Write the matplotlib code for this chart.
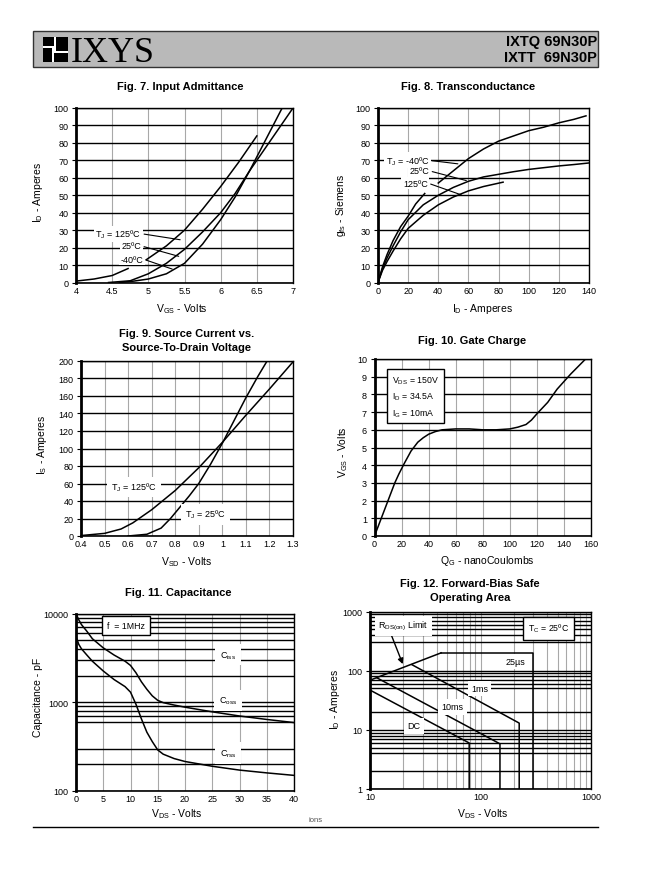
import numpy as np
import matplotlib.pyplot as plt
from matplotlib.patches import Rectangle
from matplotlib.ticker import FixedLocator, NullFormatter

plt.rcParams["font.family"] = ["Liberation Sans", "DejaVu Sans"]
plt.rcParams["mathtext.default"] = "regular"

W, H = 662, 879
nan = np.nan

# Fig. 7 - input admittance (I_D vs V_GS)
f7_vgs_125 = [4.0, 4.25, 4.5, 4.72, nan, 4.97, 5.25, 5.5, 5.75, 6.0, 6.25, 6.5]
f7_id_125 = [0.8, 2, 4, 8, nan, 13, 21, 30, 42, 55, 69, 84]
f7_vgs_25 = [4.45, 4.75, 5.0, 5.25, 5.5, 5.75, 6.0, 6.2, 6.4, 6.6, 6.8, 7.0]
f7_id_25 = [0, 1, 5, 11, 19, 29, 40, 51, 64, 76, 88, 100]
f7_vgs_m40 = [4.6, 4.8, 5.0, 5.25, 5.5, 5.75, 6.0, 6.2, 6.4, 6.6, 6.85]
f7_id_m40 = [0, 0.8, 2, 5, 11, 22, 36, 49, 64, 80, 100]
f7_xticks = [4, 4.5, 5, 5.5, 6, 6.5, 7]
f7_yticks = [0, 10, 20, 30, 40, 50, 60, 70, 80, 90, 100]

# Fig. 8 - transconductance (g_fs vs I_D)
f8_id_m40 = [0, 3, 6, 10, 15, 20, 25, 31, nan, 40, 50, 60, 70, 80, 90, 100, 110, 120, 130, 138]
f8_g_m40 = [0, 9, 16, 24, 32, 38, 45, 51, nan, 57, 64, 71, 76.5, 81, 84, 87, 89, 91.5, 93.5, 95.5]
f8_id_25 = [0, 3, 6, 10, 15, 20, 30, 40, 50, 60, 70, 80, 90, 100, 110, 120, 130, 140]
f8_g_25 = [0, 8, 14, 21, 29, 36, 44.5, 50, 54.5, 58, 60.5, 62, 63.5, 64.8, 65.8, 66.8, 67.6, 68.5]
f8_id_125 = [0, 3, 6, 10, 15, 20, 30, 40, 50, 60, 70, 83]
f8_g_125 = [0, 7, 12, 18, 25, 31, 38.5, 44.5, 49, 52.5, 55, 57.5]
f8_xticks = [0, 20, 40, 60, 80, 100, 120, 140]
f8_yticks = [0, 10, 20, 30, 40, 50, 60, 70, 80, 90, 100]

# Fig. 9 - source current vs source-to-drain voltage
f9_vsd_125 = [0.4, 0.5, 0.57, 0.62, 0.7, 0.8, 0.9, 1.0, 1.1, 1.2, 1.3]
f9_is_125 = [0.5, 3, 8, 15, 30, 52, 78, 107, 138, 168, 199]
f9_vsd_25 = [0.6, 0.68, 0.74, 0.78, 0.82, 0.86, 0.9, 0.95, 1.0, 1.05, 1.1, 1.15, 1.19]
f9_is_25 = [0, 2, 9, 20, 33, 46, 60, 82, 106, 132, 158, 182, 200]
f9_xticks = [0.4, 0.5, 0.6, 0.7, 0.8, 0.9, 1.0, 1.1, 1.2, 1.3]
f9_yticks = [0, 20, 40, 60, 80, 100, 120, 140, 160, 180, 200]

# Fig. 10 - gate charge
f10_qg = [0, 5, 10, 15, 18, 22, 27, 32, 36, 40, 45, 50, 60, 70, 80, 90, 100,
          106, 112, 116, 120, 128, 135, 145, 156]
f10_vgs = [0, 1, 2, 3, 3.5, 4.1, 4.8, 5.3, 5.55, 5.75, 5.9, 6.0, 6.05, 6.05, 6.0, 6.0, 6.05,
           6.15, 6.3, 6.55, 6.9, 7.55, 8.3, 9.15, 10]
f10_xticks = [0, 20, 40, 60, 80, 100, 120, 140, 160]
f10_yticks = [0, 1, 2, 3, 4, 5, 6, 7, 8, 9, 10]

# Fig. 11 - capacitance
f11_vds = [0, 0.5, 1, 2, 3, 5, 7, 9, 10, 11, 12, 13, 14, 15, 16, 18, 20, 25, 30, 35, 40]
f11_c_oss = [10000, 8500, 7500, 6300, 5200, 4100, 3400, 2900, 2600, 2150, 1700, 1400, 1180,
             1050, 990, 930, 880, 780, 700, 640, 590]
f11_c_rss = [5500, 4500, 4000, 3400, 2900, 2250, 1800, 1500, 1300, 950, 650, 460, 360,
             290, 260, 232, 215, 190, 172, 160, 150]
f11_xticks = [0, 5, 10, 15, 20, 25, 30, 35, 40]
f11_yticks = [100, 1000, 10000]
f11_ygrid = [200, 300, 600, 700, 800, 900, 2000, 3000, 4000, 5000, 6000, 7000, 8000, 9000]

# Fig. 12 - forward-bias safe operating area
f12_rds_v, f12_rds_i = [10, 44], [69, 200]
f12_25us_v, f12_25us_i = [44, 300, 300], [200, 200, 1]
f12_1ms_v, f12_1ms_i = [24, 224, 224], [126, 13, 1]
f12_10ms_v, f12_10ms_i = [11.5, 150, 150], [76, 5.8, 1]
f12_dc_v, f12_dc_i = [10, 79, 79], [47, 6, 1]
f12_xticks = [10, 100, 1000]
f12_yticks = [1, 10, 100, 1000]
f12_ygrid = [2, 4, 5, 6, 7, 8, 9, 20, 50, 60, 70, 80, 90, 300, 400, 500, 600, 700, 800, 900]

fig = plt.figure(figsize=(W / 100, H / 100), dpi=100)


def add_ax(left, top, right, bottom):
    return fig.add_axes([left / W, 1 - bottom / H, (right - left) / W, (bottom - top) / H])


def fig_text(x, y, s, **kw):
    fig.text(x / W, 1 - y / H, s, **kw)


def style(ax, xlim, ylim, xticks, yticks):
    ax.set_xlim(xlim)
    ax.set_ylim(ylim)
    ax.set_xticks(xticks, [f"{v:g}" for v in xticks])
    ax.set_yticks(yticks, [f"{v:g}" for v in yticks])
    ax.tick_params(labelsize=6.5, length=0, pad=2.5)
    ax.tick_params(axis="y", length=3, width=0.8)
    ax.tick_params(which="minor", length=0)
    ax.grid(axis="y", which="both", color="black", lw=1.0)
    ax.grid(axis="x", which="both", color="#a8a8a8", lw=0.8)
    ax.set_axisbelow(True)
    for s in ax.spines.values():
        s.set_color("black")
        s.set_linewidth(1.0)
    ax.spines["left"].set_linewidth(2.0)
    ax.spines["bottom"].set_linewidth(1.2)


curve = dict(color="black", lw=1.1)
lbl = dict(fontsize=6.5, bbox=dict(fc="white", ec="none", pad=1.2), zorder=5)
leader = dict(arrowstyle="-", lw=0.8, color="black", relpos=(1, 0.5), shrinkA=1, shrinkB=0)
title_kw = dict(ha="center", va="center", fontsize=8, fontweight="bold")
axlbl_kw = dict(ha="center", va="center", fontsize=7.5)

# ---------- Fig. 7 ----------
ax = add_ax(76, 109, 293, 283.5)
style(ax, (4, 7), (0, 100), f7_xticks, f7_yticks)
ax.plot(f7_vgs_125, f7_id_125, **curve)
ax.plot(f7_vgs_25, f7_id_25, **curve)
ax.plot(f7_vgs_m40, f7_id_m40, **curve)
ax.annotate("T$_J$ = 125ºC", xy=(5.44, 24.5), xytext=(4.9, 28), ha="right", va="center",
            arrowprops=leader, **lbl)
ax.annotate("25ºC", xy=(5.42, 15), xytext=(4.9, 21), ha="right", va="center",
            arrowprops=leader, **lbl)
ax.annotate("-40ºC", xy=(5.33, 7.7), xytext=(4.93, 13.4), ha="right", va="center",
            arrowprops=leader, **lbl)
fig_text(180, 87, "Fig. 7. Input Admittance", **title_kw)
fig_text(182, 309, "V$_{G S}$ - Volts", **axlbl_kw)
fig_text(38, 193, "I$_D$ - Amperes", rotation=90, **axlbl_kw)

# ---------- Fig. 8 ----------
ax = add_ax(378, 109, 589, 283.5)
style(ax, (0, 140), (0, 100), f8_xticks, f8_yticks)
ax.plot(f8_id_m40, f8_g_m40, **curve)
ax.plot(f8_id_25, f8_g_25, **curve)
ax.plot(f8_id_125, f8_g_125, **curve)
ax.annotate("T$_J$ = -40ºC", xy=(53, 68), xytext=(34, 70), ha="right", va="center",
            arrowprops=leader, **lbl)
ax.annotate("25ºC", xy=(58.6, 58.4), xytext=(34, 64), ha="right", va="center",
            arrowprops=leader, **lbl)
ax.annotate("125ºC", xy=(55.3, 50.2), xytext=(33, 57), ha="right", va="center",
            arrowprops=leader, **lbl)
fig_text(468, 87, "Fig. 8. Transconductance", **title_kw)
fig_text(482, 309, "I$_D$ - Amperes", **axlbl_kw)
fig_text(341, 205, "g$_{f s}$ - Siemens", rotation=90, **axlbl_kw)

# ---------- Fig. 9 ----------
ax = add_ax(81, 362, 293, 537)
style(ax, (0.4, 1.3), (0, 200), f9_xticks, f9_yticks)
ax.plot(f9_vsd_125, f9_is_125, **curve)
ax.plot(f9_vsd_25, f9_is_25, **curve)
box9 = dict(fc="white", ec="none", pad=3)
ax.text(0.625, 56, "T$_J$ = 125ºC", ha="center", va="center", **{**lbl, "bbox": box9})
ax.text(0.93, 25, "T$_J$ = 25ºC", ha="center", va="center", **{**lbl, "bbox": box9})
fig_text(187, 334, "Fig. 9. Source Current vs.", **title_kw)
fig_text(187, 348, "Source-To-Drain Voltage", **title_kw)
fig_text(187, 562, "V$_{S D}$ - Volts", **axlbl_kw)
fig_text(42, 445, "I$_S$ - Amperes", rotation=90, **axlbl_kw)

# ---------- Fig. 10 ----------
ax = add_ax(374.5, 360, 591, 537)
style(ax, (0, 160), (0, 10), f10_xticks, f10_yticks)
ax.plot(f10_qg, f10_vgs, **curve)
ax.text(13, 9.15, "V$_{DS}$ = 150V\nI$_D$ = 34.5A\nI$_G$ = 10mA", ha="left", va="top",
        fontsize=6.3, linespacing=1.45, zorder=5,
        bbox=dict(boxstyle="square,pad=0.55", fc="white", ec="black", lw=1))
fig_text(472, 341, "Fig. 10. Gate Charge", **title_kw)
fig_text(487, 561, "Q$_G$ - nanoCoulombs", **axlbl_kw)
fig_text(343, 452, "V$_{GS}$ - Volts", rotation=90, **axlbl_kw)

# ---------- Fig. 11 ----------
ax = add_ax(76, 614.5, 294, 792)
ax.set_yscale("log")
style(ax, (0, 40), (100, 10000), f11_xticks, f11_yticks)
ax.yaxis.set_minor_locator(FixedLocator(f11_ygrid))
ax.yaxis.set_minor_formatter(NullFormatter())
ax.plot(f11_vds, f11_c_oss, **curve)
ax.plot(f11_vds, f11_c_rss, **curve)
box11 = dict(fc="white", ec="none", pad=3.5)
ax.text(27.9, 3420, "C$_{iss}$", ha="center", va="center", **{**lbl, "bbox": box11})
ax.text(27.9, 1045, "C$_{oss}$", ha="center", va="center", **{**lbl, "bbox": box11})
ax.text(27.9, 268, "C$_{rss}$", ha="center", va="center", **{**lbl, "bbox": box11})
ax.text(9.2, 7350, "f  = 1MHz", ha="center", va="center", fontsize=6.3, zorder=5,
        bbox=dict(boxstyle="square,pad=0.6", fc="white", ec="black", lw=1))
fig_text(178, 593, "Fig. 11. Capacitance", **title_kw)
fig_text(177, 814, "V$_{D S}$ - Volts", **axlbl_kw)
fig_text(38, 697, "Capacitance - pF", rotation=90, **axlbl_kw)

# ---------- Fig. 12 ----------
ax = add_ax(370, 612.5, 591, 790)
ax.set_xscale("log")
ax.set_yscale("log")
style(ax, (10, 1000), (1, 1000), f12_xticks, f12_yticks)
ax.xaxis.set_minor_formatter(NullFormatter())
ax.yaxis.set_minor_locator(FixedLocator(f12_ygrid))
ax.yaxis.set_minor_formatter(NullFormatter())
ax.plot(f12_rds_v, f12_rds_i, **curve)
ax.plot(f12_25us_v, f12_25us_i, **curve)
ax.plot(f12_1ms_v, f12_1ms_i, **curve)
ax.plot(f12_10ms_v, f12_10ms_i, **curve)
ax.plot(f12_dc_v, f12_dc_i, **curve)
box12 = dict(fc="white", ec="none", pad=2.5)
ax.text(20, 572, "R$_{DS(on)}$ Limit", ha="center", va="center", **{**lbl, "bbox": box12})
ax.annotate("", xy=(19.8, 129), xytext=(15.7, 388),
            arrowprops=dict(arrowstyle="-|>", color="black", lw=1, mutation_scale=8, shrinkA=0, shrinkB=0))
ax.text(413, 526, "T$_C$ = 25ºC", ha="center", va="center", fontsize=6.3, zorder=5,
        bbox=dict(boxstyle="square,pad=0.6", fc="white", ec="black", lw=1))
ax.text(205, 143, "25µs", ha="center", va="center", **{**lbl, "bbox": box12})
ax.text(98, 50, "1ms", ha="center", va="center", **{**lbl, "bbox": box12})
ax.text(56, 24.6, "10ms", ha="center", va="center", **{**lbl, "bbox": box12})
ax.text(25, 11.7, "DC", ha="center", va="center", **{**lbl, "bbox": box12})
fig_text(470, 584, "Fig. 12. Forward-Bias Safe", **title_kw)
fig_text(470, 598, "Operating Area", **title_kw)
fig_text(483, 814, "V$_{D S}$ - Volts", **axlbl_kw)
fig_text(335, 700, "I$_D$ - Amperes", rotation=90, **axlbl_kw)

# ---------- page header / footer ----------
ov = fig.add_axes([0, 0, 1, 1])
ov.set_xlim(0, W)
ov.set_ylim(H, 0)
ov.axis("off")
ov.set_zorder(-1)
ov.add_patch(Rectangle((33, 32), 565, 36, fc="#b9b9b9", ec="#333333", lw=1))
lx, ly, ls = 43, 38, 25
ov.add_patch(Rectangle((lx, ly), ls, ls, fc="white", ec="none"))
for px, py, pw, ph in [(0, 0, 0.43, 0.36), (0.5, 0, 0.5, 0.55), (0, 0.43, 0.36, 0.57), (0.43, 0.62, 0.57, 0.38)]:
    ov.add_patch(Rectangle((lx + px * ls, ly + py * ls), pw * ls, ph * ls, fc="black", ec="none"))
ov.text(71, 62.5, "IXYS", fontsize=26, family="Liberation Serif", va="baseline", ha="left")
ov.text(597, 42, "IXTQ 69N30P", fontsize=10.5, fontweight="bold", ha="right", va="center")
ov.text(597, 58, "IXTT  69N30P", fontsize=10.5, fontweight="bold", ha="right", va="center")
ov.plot([33, 598], [828, 828], color="black", lw=1)
ov.text(316, 821, "ions", fontsize=5.5, color="#555555", ha="center", va="center")

fig.savefig("out.png", dpi=100)
